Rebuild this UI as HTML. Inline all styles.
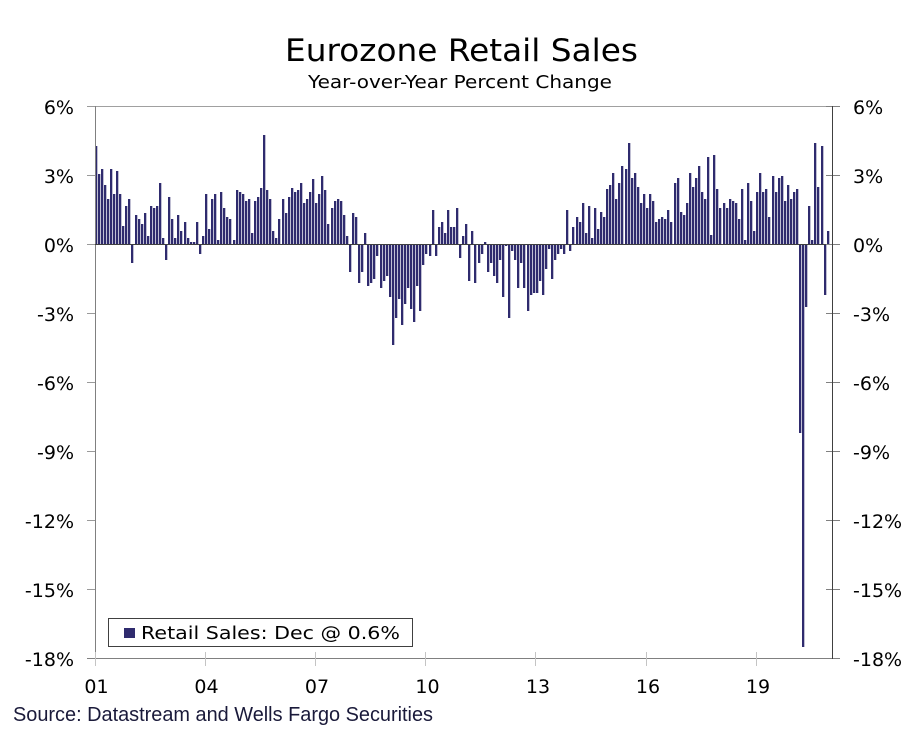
<!DOCTYPE html>
<html>
<head>
<meta charset="utf-8">
<style>
html,body{margin:0;padding:0;background:#fff;}
body{width:921px;height:737px;position:relative;overflow:hidden;}
.b{display:flex;position:absolute;left:94.7px;top:0;width:735.12px;height:737px;}
.b i{flex:1 1 0;position:relative;min-width:0;display:block;}
.b i::before{content:"";position:absolute;left:0;width:2px;
  top:calc(244.6px - max(var(--v) * 23px, 0px));
  height:max(var(--v) * 23px, var(--v) * -23px);
  background:#2f2b6e;
  box-shadow:1px 0 0 rgba(47,43,110,0.3);}
svg{position:absolute;left:0;top:0;}
</style>
</head>
<body>
<div class="b">
<i style="--v:4.27"></i><i style="--v:3.09"></i><i style="--v:3.28"></i><i style="--v:2.58"></i><i style="--v:1.98"></i><i style="--v:3.28"></i><i style="--v:2.18"></i><i style="--v:3.19"></i><i style="--v:2.18"></i><i style="--v:0.8"></i>
<i style="--v:1.69"></i><i style="--v:1.98"></i><i style="--v:-0.8"></i><i style="--v:1.29"></i><i style="--v:1.1"></i><i style="--v:0.9"></i><i style="--v:1.39"></i><i style="--v:0.39"></i><i style="--v:1.69"></i><i style="--v:1.59"></i>
<i style="--v:1.69"></i><i style="--v:2.68"></i><i style="--v:0.3"></i><i style="--v:-0.69"></i><i style="--v:2.08"></i><i style="--v:1.1"></i><i style="--v:0.3"></i><i style="--v:1.29"></i><i style="--v:0.59"></i><i style="--v:1.0"></i>
<i style="--v:0.3"></i><i style="--v:0.1"></i><i style="--v:0.1"></i><i style="--v:1.0"></i><i style="--v:-0.39"></i><i style="--v:0.39"></i><i style="--v:2.18"></i><i style="--v:0.7"></i><i style="--v:1.98"></i><i style="--v:2.18"></i>
<i style="--v:0.2"></i><i style="--v:2.28"></i><i style="--v:1.59"></i><i style="--v:1.2"></i><i style="--v:1.1"></i><i style="--v:0.2"></i><i style="--v:2.38"></i><i style="--v:2.28"></i><i style="--v:2.18"></i><i style="--v:1.89"></i>
<i style="--v:1.98"></i><i style="--v:0.49"></i><i style="--v:1.89"></i><i style="--v:2.08"></i><i style="--v:2.48"></i><i style="--v:4.78"></i><i style="--v:2.38"></i><i style="--v:1.98"></i><i style="--v:0.59"></i><i style="--v:0.3"></i>
<i style="--v:1.1"></i><i style="--v:1.98"></i><i style="--v:1.39"></i><i style="--v:2.08"></i><i style="--v:2.48"></i><i style="--v:2.28"></i><i style="--v:2.38"></i><i style="--v:2.68"></i><i style="--v:1.79"></i><i style="--v:1.98"></i>
<i style="--v:2.28"></i><i style="--v:2.87"></i><i style="--v:1.79"></i><i style="--v:2.18"></i><i style="--v:2.97"></i><i style="--v:2.38"></i><i style="--v:0.9"></i><i style="--v:1.59"></i><i style="--v:1.89"></i><i style="--v:1.98"></i>
<i style="--v:1.89"></i><i style="--v:1.29"></i><i style="--v:0.39"></i><i style="--v:-1.2"></i><i style="--v:1.39"></i><i style="--v:1.19"></i><i style="--v:-1.69"></i><i style="--v:-1.2"></i><i style="--v:0.49"></i><i style="--v:-1.79"></i>
<i style="--v:-1.69"></i><i style="--v:-1.48"></i><i style="--v:-0.49"></i><i style="--v:-1.89"></i><i style="--v:-1.58"></i><i style="--v:-1.38"></i><i style="--v:-2.28"></i><i style="--v:-4.37"></i><i style="--v:-3.17"></i><i style="--v:-2.38"></i>
<i style="--v:-3.48"></i><i style="--v:-2.58"></i><i style="--v:-1.89"></i><i style="--v:-2.78"></i><i style="--v:-3.38"></i><i style="--v:-1.79"></i><i style="--v:-2.88"></i><i style="--v:-0.89"></i><i style="--v:-0.39"></i><i style="--v:-0.49"></i>
<i style="--v:1.49"></i><i style="--v:-0.49"></i><i style="--v:0.78"></i><i style="--v:0.98"></i><i style="--v:0.49"></i><i style="--v:1.49"></i><i style="--v:0.78"></i><i style="--v:0.78"></i><i style="--v:1.59"></i><i style="--v:-0.59"></i>
<i style="--v:0.39"></i><i style="--v:0.88"></i><i style="--v:-1.58"></i><i style="--v:0.59"></i><i style="--v:-1.69"></i><i style="--v:-0.79"></i><i style="--v:-0.39"></i><i style="--v:0.1"></i><i style="--v:-1.2"></i><i style="--v:-0.79"></i>
<i style="--v:-1.38"></i><i style="--v:-1.69"></i><i style="--v:-0.69"></i><i style="--v:-2.28"></i><i style="--v:-0.05"></i><i style="--v:-3.17"></i><i style="--v:-0.29"></i><i style="--v:-0.69"></i><i style="--v:-1.89"></i><i style="--v:-0.79"></i>
<i style="--v:-1.89"></i><i style="--v:-2.88"></i><i style="--v:-2.18"></i><i style="--v:-2.09"></i><i style="--v:-2.09"></i><i style="--v:-1.58"></i><i style="--v:-2.18"></i><i style="--v:-1.08"></i><i style="--v:-0.19"></i><i style="--v:-1.48"></i>
<i style="--v:-0.69"></i><i style="--v:-0.39"></i><i style="--v:-0.19"></i><i style="--v:-0.39"></i><i style="--v:1.49"></i><i style="--v:-0.29"></i><i style="--v:0.78"></i><i style="--v:1.19"></i><i style="--v:0.98"></i><i style="--v:1.8"></i>
<i style="--v:0.5"></i><i style="--v:1.69"></i><i style="--v:0.3"></i><i style="--v:1.59"></i><i style="--v:0.69"></i><i style="--v:1.4"></i><i style="--v:1.2"></i><i style="--v:2.4"></i><i style="--v:2.6"></i><i style="--v:3.1"></i>
<i style="--v:1.99"></i><i style="--v:2.7"></i><i style="--v:3.4"></i><i style="--v:3.3"></i><i style="--v:4.4"></i><i style="--v:2.9"></i><i style="--v:3.1"></i><i style="--v:2.5"></i><i style="--v:1.8"></i><i style="--v:2.2"></i>
<i style="--v:1.59"></i><i style="--v:2.2"></i><i style="--v:1.89"></i><i style="--v:0.99"></i><i style="--v:1.1"></i><i style="--v:1.2"></i><i style="--v:1.1"></i><i style="--v:1.49"></i><i style="--v:0.99"></i><i style="--v:2.7"></i>
<i style="--v:2.9"></i><i style="--v:1.4"></i><i style="--v:1.3"></i><i style="--v:1.8"></i><i style="--v:3.1"></i><i style="--v:2.5"></i><i style="--v:2.9"></i><i style="--v:3.4"></i><i style="--v:2.3"></i><i style="--v:1.99"></i>
<i style="--v:3.8"></i><i style="--v:0.4"></i><i style="--v:3.9"></i><i style="--v:2.4"></i><i style="--v:1.59"></i><i style="--v:1.8"></i><i style="--v:1.59"></i><i style="--v:1.99"></i><i style="--v:1.89"></i><i style="--v:1.8"></i>
<i style="--v:1.1"></i><i style="--v:2.4"></i><i style="--v:0.2"></i><i style="--v:2.7"></i><i style="--v:1.89"></i><i style="--v:0.6"></i><i style="--v:2.3"></i><i style="--v:3.1"></i><i style="--v:2.3"></i><i style="--v:2.4"></i>
<i style="--v:1.2"></i><i style="--v:3.0"></i><i style="--v:2.3"></i><i style="--v:2.9"></i><i style="--v:3.0"></i><i style="--v:1.89"></i><i style="--v:2.6"></i><i style="--v:1.99"></i><i style="--v:2.3"></i><i style="--v:2.4"></i>
<i style="--v:-8.2"></i><i style="--v:-17.5"></i><i style="--v:-2.7"></i><i style="--v:1.7"></i><i style="--v:0.2"></i><i style="--v:4.4"></i><i style="--v:2.5"></i><i style="--v:4.28"></i><i style="--v:-2.2"></i><i style="--v:0.6"></i>
</div>

<svg width="921" height="737" viewBox="0 0 921 737" xmlns="http://www.w3.org/2000/svg">
  <g shape-rendering="crispEdges" stroke-width="1" fill="none">
    <line x1="95" y1="106.5" x2="833" y2="106.5" stroke="#a0a0a0"/>
    <line x1="95.5" y1="106" x2="95.5" y2="659" stroke="#808080"/>
    <g stroke="#9a9a9a">
      <line x1="87" y1="106.5" x2="95" y2="106.5"/>
      <line x1="87" y1="175.5" x2="95" y2="175.5"/>
      <line x1="87" y1="244.5" x2="95" y2="244.5"/>
      <line x1="87" y1="313.5" x2="95" y2="313.5"/>
      <line x1="87" y1="382.5" x2="95" y2="382.5"/>
      <line x1="87" y1="451.5" x2="95" y2="451.5"/>
      <line x1="87" y1="520.5" x2="95" y2="520.5"/>
      <line x1="87" y1="589.5" x2="95" y2="589.5"/>
      <line x1="87" y1="658.5" x2="95" y2="658.5"/>
    </g>
    <line x1="87" y1="658.5" x2="833" y2="658.5" stroke="#808080"/>
    <g stroke="#c4c4c4">
      <line x1="95.5" y1="652" x2="95.5" y2="666"/>
      <line x1="205.5" y1="652" x2="205.5" y2="666"/>
      <line x1="315.5" y1="652" x2="315.5" y2="666"/>
      <line x1="425.5" y1="652" x2="425.5" y2="666"/>
      <line x1="535.5" y1="652" x2="535.5" y2="666"/>
      <line x1="646.5" y1="652" x2="646.5" y2="666"/>
      <line x1="756.5" y1="652" x2="756.5" y2="666"/>
    </g>
    <line x1="95" y1="244.5" x2="833" y2="244.5" stroke="#404040"/>
    <g stroke="#808080">
      <line x1="826" y1="106.5" x2="840" y2="106.5"/>
      <line x1="826" y1="175.5" x2="840" y2="175.5"/>
      <line x1="826" y1="244.5" x2="840" y2="244.5"/>
      <line x1="826" y1="313.5" x2="840" y2="313.5"/>
      <line x1="826" y1="382.5" x2="840" y2="382.5"/>
      <line x1="826" y1="451.5" x2="840" y2="451.5"/>
      <line x1="826" y1="520.5" x2="840" y2="520.5"/>
      <line x1="826" y1="589.5" x2="840" y2="589.5"/>
      <line x1="826" y1="658.5" x2="840" y2="658.5"/>
    </g>
    <line x1="832.5" y1="106" x2="832.5" y2="659" stroke="#404040"/>
    <rect x="108.5" y="618.5" width="304" height="28" fill="#fff" stroke="#404040"/>
    <rect x="124" y="628" width="11" height="10" fill="#2f2b6e" stroke="none"/>
  </g>

  <g font-family="'DejaVu Sans', 'Liberation Sans', sans-serif" fill="#000">
    <text x="285" y="61" font-size="31" textLength="353" lengthAdjust="spacingAndGlyphs">Eurozone Retail Sales</text>
    <text x="308" y="88" font-size="18" textLength="304" lengthAdjust="spacingAndGlyphs">Year-over-Year Percent Change</text>

    <g font-size="19" text-anchor="end">
      <text x="74" y="114">6%</text>
      <text x="74" y="183">3%</text>
      <text x="74" y="252">0%</text>
      <text x="74" y="321">-3%</text>
      <text x="74" y="390">-6%</text>
      <text x="74" y="459">-9%</text>
      <text x="74" y="528">-12%</text>
      <text x="74" y="597">-15%</text>
      <text x="74" y="666">-18%</text>
    </g>
    <g font-size="19" text-anchor="start">
      <text x="853" y="114">6%</text>
      <text x="853" y="183">3%</text>
      <text x="853" y="252">0%</text>
      <text x="853" y="321">-3%</text>
      <text x="853" y="390">-6%</text>
      <text x="853" y="459">-9%</text>
      <text x="853" y="528">-12%</text>
      <text x="853" y="597">-15%</text>
      <text x="853" y="666">-18%</text>
    </g>
    <g font-size="19" text-anchor="middle">
      <text x="96.5" y="693">01</text>
      <text x="206.5" y="693">04</text>
      <text x="317" y="693">07</text>
      <text x="427.5" y="693">10</text>
      <text x="538" y="693">13</text>
      <text x="648" y="693">16</text>
      <text x="758" y="693">19</text>
    </g>
    <text x="141" y="639" font-size="18" textLength="259" lengthAdjust="spacingAndGlyphs">Retail Sales: Dec @ 0.6%</text>
  </g>
  <text x="13" y="721" font-family="'Liberation Sans', Arial, sans-serif" font-size="20" fill="#1a1a3a" textLength="420" lengthAdjust="spacingAndGlyphs">Source: Datastream and Wells Fargo Securities</text>
</svg>
</body>
</html>
